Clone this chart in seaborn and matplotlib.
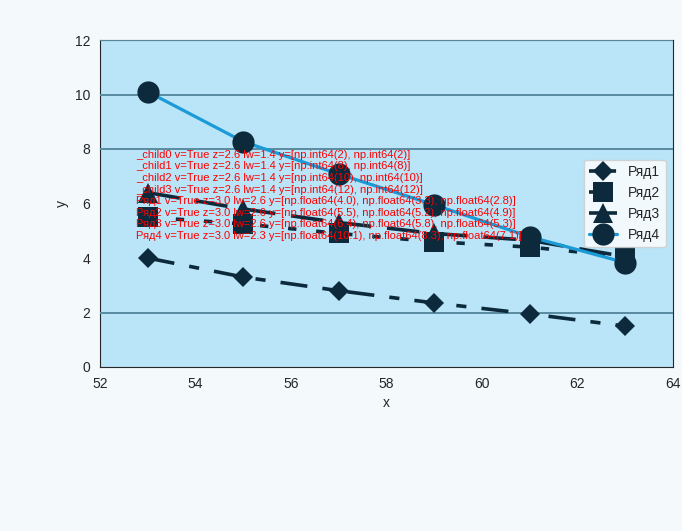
import numpy as np
import pandas as pd
import seaborn as sns
import matplotlib.pyplot as plt
from matplotlib.patches import Rectangle
from matplotlib.ticker import FixedLocator

x_vals = [53, 55, 57, 59, 61, 63]
ryad1 = [4.0, 3.3, 2.8, 2.35, 1.95, 1.5]
ryad2 = [5.5, 5.25, 4.9, 4.6, 4.4, 4.05]
ryad3 = [6.4, 5.8, 5.3, 4.9, 4.65, 4.05]
ryad4 = [10.1, 8.27, 7.08, 5.95, 4.78, 3.83]
names = ["Ряд1", "Ряд2", "Ряд3", "Ряд4"]

y_grid = [2, 8, 10, 12]

navy = "#0c2a3b"
blue = "#1a9ad6"
txt = "#163448"
gc = "#5a8a9f"

df = pd.DataFrame({
    "x": x_vals * 4,
    "y": ryad1 + ryad2 + ryad3 + ryad4,
    "series": [n for n in names for _ in x_vals],
})

sns.set_style("white")
plt.rcParams["font.family"] = ["Liberation Sans", "DejaVu Sans"]

fig = plt.figure(figsize=(6.82, 5.31), dpi=100)
fig.patch.set_facecolor("#f4f9fc")
ax = fig.add_axes([100 / 682, 1 - 367 / 531, 573 / 682, 327 / 531])
ax.set_facecolor("#bae4f7")

for yv in y_grid:
    ax.axhline(yv, color=gc, lw=1.4, zorder=2.6)

styles = {
    "Ряд1": dict(marker="D", ms=10.5, color=navy, dashes=(7.5, 4.2, 2.8, 4.2), lw=2.6),
    "Ряд2": dict(marker="s", ms=14, color=navy, dashes=(2.3, 5.5), lw=2.6),
    "Ряд3": dict(marker="^", ms=14, color=navy, dashes=(9, 4.4), lw=2.6),
    "Ряд4": dict(marker="o", ms=16, color=blue, dashes=None, lw=2.3),
}

for n in names:
    s = styles[n]
    kw = dict(marker=s["marker"], markersize=s["ms"], markerfacecolor=navy,
              markeredgecolor=navy, markeredgewidth=0, lw=s["lw"], zorder=3)
    if s["dashes"] is not None:
        kw["dashes"] = s["dashes"]
    sns.lineplot(data=df[df["series"] == n], x="x", y="y", color=s["color"],
                 label=n, ax=ax, **kw)

ax.set_xlim(52, 64)
ax.set_ylim(0, 12)
info = []
for ln in ax.lines:
    info.append("%s v=%s z=%.1f lw=%.1f y=%s" % (ln.get_label()[:8], ln.get_visible(), ln.get_zorder(),
                                                ln.get_linewidth(), list(np.round(ln.get_ydata(), 1))[:3]))
fig.text(0.2, 0.55, "\n".join(info), fontsize=8, color="red")
fig.savefig("out.png", dpi=100, facecolor=fig.get_facecolor())
